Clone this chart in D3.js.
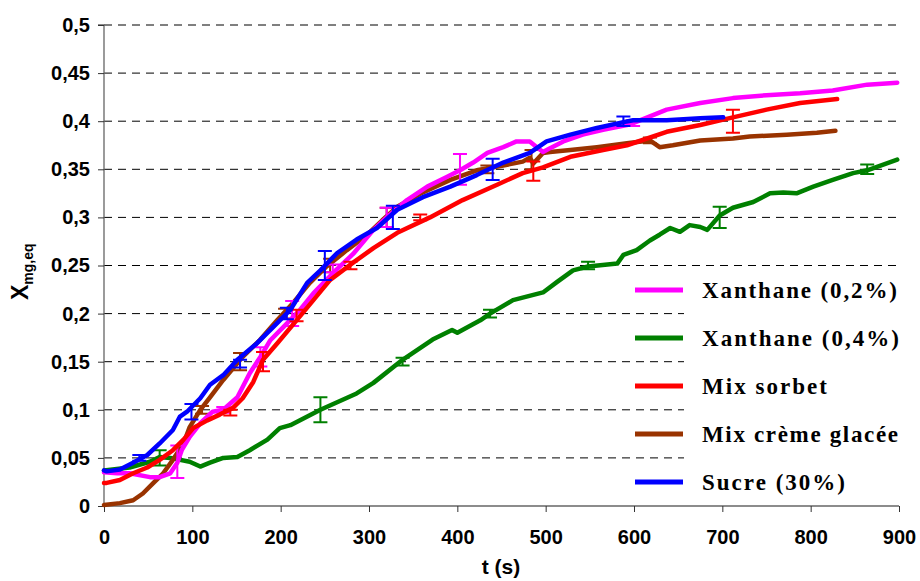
<!DOCTYPE html>
<html><head><meta charset="utf-8">
<script src="https://cdn.jsdelivr.net/npm/d3@7"></script>
<style>body{margin:0;background:#fff}svg{display:block}</style>
</head><body>
<script>
// ---- data ----
const seriesNames = ["Xanthane (0,2%)","Xanthane (0,4%)","Mix sorbet","Mix crème glacée","Sucre (30%)"];
const seriesColors = ["#FF00FF","#008000","#FF0000","#993300","#0000FF"];

const tPink = [0,15,29,52,63,75,83,88,97,109,123,135,151,165,177,188,203,222,237,259,282,305,320,343,366,388,403,418,434,452,467,482,490,497,505,520,542,565,592,599,637,675,712,750,788,825,864,898];
const xPink = [0.035,0.034,0.034,0.03,0.03,0.034,0.045,0.058,0.072,0.086,0.098,0.1,0.113,0.138,0.155,0.172,0.186,0.204,0.221,0.242,0.262,0.287,0.3,0.318,0.332,0.342,0.349,0.357,0.367,0.373,0.379,0.379,0.373,0.368,0.372,0.379,0.386,0.391,0.396,0.398,0.412,0.419,0.424,0.427,0.429,0.432,0.438,0.44];

const tGreen = [0,29,52,63,75,97,109,120,135,151,165,185,199,211,245,286,305,338,372,394,400,426,437,463,497,513,531,548,581,588,603,618,629,641,652,663,675,683,697,712,735,754,769,784,803,825,848,864,898];
const xGreen = [0.037,0.04,0.046,0.051,0.05,0.046,0.041,0.045,0.05,0.051,0.058,0.069,0.081,0.084,0.1,0.117,0.128,0.152,0.173,0.183,0.18,0.193,0.2,0.214,0.222,0.233,0.245,0.249,0.252,0.261,0.266,0.276,0.282,0.289,0.285,0.292,0.29,0.287,0.302,0.31,0.316,0.325,0.326,0.325,0.332,0.339,0.346,0.349,0.36];

const tRed = [0,3,18,33,49,63,78,90,101,117,131,146,157,169,180,196,218,237,256,282,305,332,369,406,445,474,497,528,565,592,637,675,712,750,788,830];
const xRed = [0.024,0.024,0.027,0.034,0.04,0.048,0.058,0.069,0.081,0.089,0.095,0.102,0.112,0.129,0.152,0.169,0.193,0.214,0.235,0.253,0.268,0.284,0.3,0.318,0.334,0.346,0.352,0.363,0.37,0.375,0.389,0.396,0.404,0.412,0.419,0.423];

const tBrown = [0,18,33,44,56,67,78,90,97,109,120,135,157,177,196,214,233,252,275,298,315,332,361,392,422,452,474,482,486,497,505,528,558,592,618,629,644,675,712,731,773,807,828];
const xBrown = [0.001,0.003,0.006,0.013,0.024,0.034,0.048,0.065,0.082,0.1,0.113,0.131,0.155,0.173,0.193,0.211,0.232,0.249,0.266,0.282,0.297,0.311,0.326,0.339,0.349,0.354,0.358,0.362,0.356,0.367,0.368,0.37,0.373,0.377,0.38,0.373,0.375,0.38,0.382,0.384,0.386,0.388,0.39];

const tBlue = [0,3,18,33,49,63,78,86,94,109,120,135,151,173,196,211,230,245,264,286,309,332,361,392,422,452,482,501,528,558,588,599,637,675,701];
const xBlue = [0.037,0.036,0.038,0.045,0.053,0.065,0.079,0.093,0.098,0.112,0.126,0.136,0.152,0.169,0.19,0.204,0.232,0.245,0.263,0.277,0.289,0.308,0.321,0.332,0.344,0.357,0.367,0.379,0.386,0.393,0.399,0.401,0.401,0.403,0.404];

// error bars: time, centre, half-width
const ebPinkT = [83,135,177,213,259,320,403,599];
const ebPinkX = [0.046,0.1,0.155,0.2,0.247,0.3,0.35,0.398];
const ebPinkE = [0.017,0.003,0.01,0.013,0.004,0.01,0.016,0.003];
const ebGreenT = [63,245,338,437,548,697,864];
const ebGreenX = [0.05,0.1,0.15,0.2,0.25,0.3,0.35];
const ebGreenE = [0.008,0.013,0.004,0.004,0.004,0.011,0.005];
const ebRedT = [143,180,218,279,358,486,712];
const ebRedX = [0.097,0.15,0.198,0.25,0.3,0.348,0.4];
const ebRedE = [0.003,0.01,0.006,0.004,0.003,0.01,0.012];
const ebBrownT = [111,154,205,256,320,434,484,618];
const ebBrownX = [0.1,0.15,0.2,0.25,0.3,0.35,0.36,0.38];
const ebBrownE = [0.004,0.009,0.005,0.007,0.01,0.004,0.01,0.003];
const ebBlueT = [40,99,154,207,250,327,440,588];
const ebBlueX = [0.05,0.098,0.148,0.2,0.25,0.3,0.35,0.4];
const ebBlueE = [0.003,0.008,0.004,0.006,0.015,0.012,0.011,0.005];

const xTicks = [0,100,200,300,400,500,600,700,800,900];
const xTickLabels = ["0","100","200","300","400","500","600","700","800","900"];
const yTicks = [0,0.05,0.1,0.15,0.2,0.25,0.3,0.35,0.4,0.45,0.5];
const yTickLabels = ["0","0,05","0,1","0,15","0,2","0,25","0,3","0,35","0,4","0,45","0,5"];

// ---- chart ----
const W = 920, H = 581;
const svg = d3.select("body").append("svg").attr("width", W).attr("height", H);
const x = d3.scaleLinear().domain([0, 900]).range([104, 899]);
const y = d3.scaleLinear().domain([0, 0.5]).range([506, 25]);

// gridlines
svg.append("g").selectAll("line").data(yTicks.filter(v => v > 0)).join("line")
  .attr("x1", x(0)).attr("x2", x(900)).attr("y1", d => y(d)).attr("y2", d => y(d))
  .attr("stroke", "#000").attr("stroke-width", 1).attr("stroke-dasharray", "8,6");

// axes
const axisFont = "'Liberation Sans', Arial, sans-serif";
const yAxis = svg.append("g").attr("transform", `translate(${x(0)},0)`)
  .call(d3.axisLeft(y).tickValues(yTicks).tickFormat((d, i) => yTickLabels[i]).tickSize(6).tickPadding(8));
const xAxis = svg.append("g").attr("transform", `translate(0,${y(0)})`)
  .call(d3.axisBottom(x).tickValues(xTicks).tickFormat((d, i) => xTickLabels[i]).tickSize(6).tickPadding(18));
[yAxis, xAxis].forEach(g => {
  g.select(".domain").attr("stroke", "#666").attr("stroke-width", 1.3);
  g.selectAll(".tick line").attr("stroke", "#333");
  g.selectAll("text").attr("font-family", axisFont).attr("font-weight", "bold").attr("font-size", 20).attr("fill", "#000");
});
yAxis.select(".domain").attr("d", `M-6,${y(0.5)}H0V${y(0)}`);
xAxis.select(".domain").attr("d", `M${x(0)},0H${x(900)}`);

// axis titles
svg.append("text").attr("x", 501).attr("y", 574).attr("text-anchor", "middle")
  .attr("font-family", axisFont).attr("font-weight", "bold").attr("font-size", 21).text("t (s)");
const yl = svg.append("text").attr("transform", "translate(28,300) rotate(-90)")
  .attr("font-family", axisFont).attr("font-weight", "bold").attr("font-size", 23);
yl.append("tspan").text("X");
yl.append("tspan").attr("font-size", 14).attr("dy", 5).text("mg,eq");

// legend background
svg.append("rect").attr("x", 684).attr("y", 272).attr("width", 236).attr("height", 232).attr("fill", "#fff");

// series
const series = [
  {t: tGreen, v: xGreen, et: ebGreenT, ex: ebGreenX, ee: ebGreenE, c: seriesColors[1]},
  {t: tBrown, v: xBrown, et: ebBrownT, ex: ebBrownX, ee: ebBrownE, c: seriesColors[3]},
  {t: tPink, v: xPink, et: ebPinkT, ex: ebPinkX, ee: ebPinkE, c: seriesColors[0]},
  {t: tRed, v: xRed, et: ebRedT, ex: ebRedX, ee: ebRedE, c: seriesColors[2]},
  {t: tBlue, v: xBlue, et: ebBlueT, ex: ebBlueX, ee: ebBlueE, c: seriesColors[4]}
];
const line = d3.line().x(d => x(d[0])).y(d => y(d[1]));
series.forEach(s => {
  const pts = s.t.map((t, i) => [t, s.v[i]]);
  svg.append("path").attr("d", line(pts)).attr("fill", "none").attr("stroke", s.c)
    .attr("stroke-width", 4.5).attr("stroke-linejoin", "round").attr("stroke-linecap", "round");
  const eb = s.et.map((t, i) => ({t, m: s.ex[i], e: s.ee[i]}));
  const g = svg.append("g").attr("stroke", s.c).attr("stroke-width", 2).attr("fill", "none");
  g.selectAll("path").data(eb).join("path")
    .attr("d", d => {
      const cx = x(d.t), y1 = y(d.m - d.e), y2 = y(d.m + d.e);
      return `M${cx},${y1}V${y2}M${cx - 7},${y1}H${cx + 7}M${cx - 7},${y2}H${cx + 7}`;
    });
});

// legend
const legendWidths = [195, 197, 125, 196, 143];
const leg = svg.append("g");
seriesNames.forEach((n, i) => {
  const ly = 290 + i * 48;
  leg.append("line").attr("x1", 635).attr("x2", 683).attr("y1", ly).attr("y2", ly)
    .attr("stroke", seriesColors[i]).attr("stroke-width", 5);
  leg.append("text").attr("x", 702).attr("y", ly + 8)
    .attr("font-family", "'Liberation Serif', 'Times New Roman', serif").attr("font-weight", "bold")
    .attr("font-size", 23).attr("textLength", legendWidths[i]).attr("lengthAdjust", "spacing").text(n);
});
</script>
</body></html>
